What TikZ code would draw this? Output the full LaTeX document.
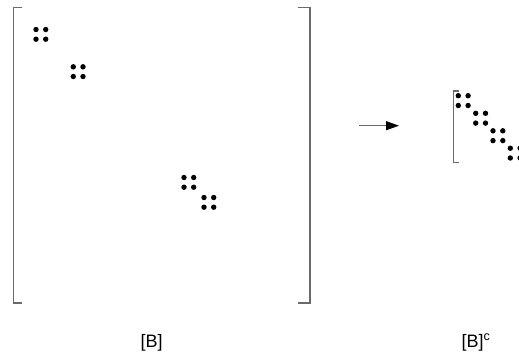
\documentclass[tikz,border=0pt]{standalone}
\usepackage{fontspec}
\setmainfont{Liberation Sans}
\usetikzlibrary{arrows.meta}
\definecolor{brk}{HTML}{6A6A6A}
\tikzset{
  brack/.style={draw=brk, line width=1.4pt},
  dotfill/.style={fill=black},
  lbl/.style={font=\fontsize{18}{21}\selectfont, inner sep=0pt, anchor=base west},
  mapsto/.style={draw=brk, line width=1.1pt, -{Triangle[length=13pt,width=9pt,fill=black,color=black]}}
}
\newcommand{\dgroup}[3]{% x y spacing
  \foreach \dx in {0,1} \foreach \dy in {0,1}
    \fill[dotfill] (#1+\dx*#3, #2+\dy*#3) circle (2.7);
}
\begin{document}
\begin{tikzpicture}[x=1pt,y=-1pt]
\useasboundingbox (0,0) rectangle (519,354);
% big matrix brackets
\draw[brack] (22,7.5) -- (13.5,7.5) -- (13.5,303) -- (22,303);
\draw[brack] (298,7.5) -- (310,7.5) -- (310,303) -- (298,303);
% dots big
\dgroup{36}{29.5}{9.7}
\dgroup{73.3}{66.8}{9.7}
\dgroup{184}{177.5}{9.7}
\dgroup{204}{197.5}{9.7}
% arrow
\coordinate (a1) at (359,125.7);
\coordinate (a2) at (399,125.7);
\draw[mapsto] (a1) -- (a2);
% small matrix bracket
\draw[brack, line width=1.1pt] (458.5,91) -- (453.5,91) -- (453.5,162.7) -- (458.5,162.7);
\dgroup{458.3}{95.7}{9.8}
\dgroup{475.7}{113.3}{9.8}
\dgroup{493}{130.8}{9.8}
\dgroup{510.3}{148.2}{9.8}
% labels
\node[lbl] (lb) at (140.5,347) {[B]};
\node[lbl] (lc) at (461.5,347) {[B]\textsuperscript{c}};
\end{tikzpicture}
\end{document}
